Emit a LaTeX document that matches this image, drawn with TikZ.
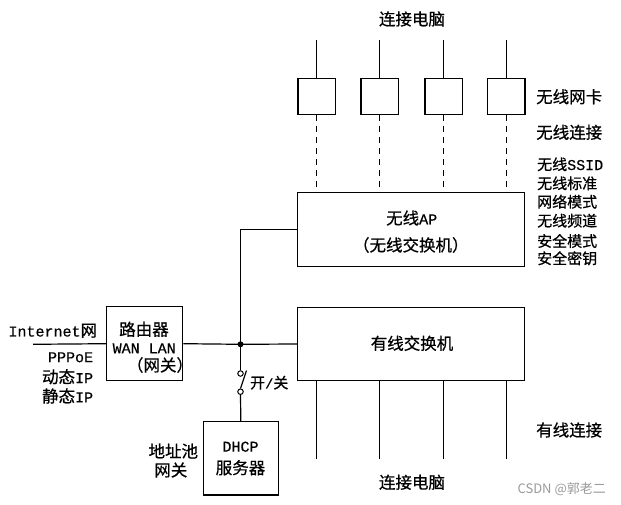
\documentclass[tikz,border=0pt]{standalone}
\usepackage{fontspec}
\setmainfont{Noto Sans CJK SC}[FakeBold=0.7]
\newfontfamily\monof{Liberation Mono}[FakeBold=0.5,Scale=0.91]
\newfontfamily\monofs{Liberation Mono}[FakeBold=0.5]
\newfontfamily\wmf{Noto Sans CJK SC}
\newcommand{\fsA}{\fontsize{16.5}{18}\selectfont}
\newcommand{\fsB}{\fontsize{15}{16}\selectfont}
\begin{document}
\begin{tikzpicture}[x=1pt,y=-1pt,
  box/.style={draw,line width=1.3pt,inner sep=0pt},
  wire/.style={line width=1.2pt},
  dwire/.style={line width=1.2pt,dash pattern=on 6pt off 5pt},
  lbl/.style={inner sep=0pt,font=\fsA},
  lbls/.style={inner sep=0pt,font=\fsB},
  contact/.style={draw,circle,fill=white,line width=1pt,minimum size=5.5pt,inner sep=0pt}]
\useasboundingbox (0,0) rectangle (621,505);
% main boxes
\node[box,minimum width=226.6pt,minimum height=74pt] (ap) at (411,229.7) {};
\node[box,minimum width=226.6pt,minimum height=73.4pt] (wsw) at (411,344) {};
\node[box,minimum width=76pt,minimum height=74pt] (rt) at (144.7,343.7) {};
\node[box,minimum width=75pt,minimum height=73.3pt] (dhcp) at (240.8,458.3) {};
% wireless cards and wired lines
\foreach \i/\x in {1/316.6,2/379.8,3/443.6,4/506.2}{
  \node[box,minimum width=37.5pt,minimum height=36pt] (c\i) at (\x,96.3) {};
  \coordinate (t\i) at (\x,40);
  \coordinate (b\i) at (\x,459);
  \draw[wire] (t\i) -- (c\i.north);
  \draw[dwire] (c\i.south) -- (c\i.south |- ap.north);
  \draw[wire] (b\i |- wsw.south) -- (b\i);
}
% junction and connections
\coordinate (J) at (240.5,344.3);
\coordinate (inet) at (33,344.3);
\draw[wire] (inet) -- (rt.west);
\draw[wire] (rt.east) -- (J) -- (wsw.west);
\draw[wire] (J) -- (J |- ap.west) -- (ap.west);
\fill (J) circle (3pt);
% switch
\node[contact] (s1) at (240.5,373.5) {};
\node[contact] (s2) at (240.5,391.7) {};
\coordinate (blade) at (246.5,370.5);
\draw[wire] (J) -- (s1.north);
\draw[wire] (s2.north) -- (blade);
\draw[wire] (s2.south) -- (dhcp.north);
% texts
\node[lbl] (topt) at (412,19) {连接电脑};
\node[lbl,anchor=west] (wnk) at (536,96.7) {无线网卡};
\node[lbl,anchor=west] (wxl) at (536,132.3) {无线连接};
\node[lbls,anchor=west] (p1) at (537,164.3) {无线{\monofs SSID}};
\node[lbls,anchor=west] (p2) at (537,183.3) {无线标准};
\node[lbls,anchor=west] (p3) at (537,201.7) {网络模式};
\node[lbls,anchor=west] (p4) at (537,220.7) {无线频道};
\node[lbls,anchor=west] (p5) at (537,241) {安全模式};
\node[lbls,anchor=west] (p6) at (537,258.3) {安全密钥};
\node[lbl] (apt1) at (411.7,218) {无线{\monof AP}};
\node[lbl] (apt2) at (410.8,245) {（无线交换机）};
\node[lbl] (wswt) at (412,343.3) {有线交换机};
\node[lbl,anchor=west] (yxl) at (536,430) {有线连接};
\node[lbl] (bott) at (412,482.3) {连接电脑};
\node[inner sep=0pt,font=\wmf\fontsize{13}{14}\selectfont,text=black!40,anchor=east] (wm) at (606,489) {CSDN @郭老二};
\node[lbl] (rt1) at (144,329.3) {路由器};
\node[lbl] (rt2) at (144.2,348.3) {\monof WAN LAN};
\node[lbl] (rt3) at (160,365) {（网关）};
\node[lbl,anchor=west] (inett) at (8.3,330.7) {{\monof Internet}网};
\node[lbl,anchor=east] (q1) at (93.3,357.3) {\monof PPPoE};
\node[lbl,anchor=east] (q2) at (93.3,376.7) {动态{\monof IP}};
\node[lbl,anchor=east] (q3) at (93.3,396) {静态{\monof IP}};
\node[lbls,anchor=west] (sw) at (250,382.7) {开{\monof /}关};
\node[lbl] (d1) at (240.5,446.7) {\monof DHCP};
\node[lbl] (d2) at (240.5,467.7) {服务器};
\node[lbl] (g1) at (173.3,451) {地址池};
\node[lbl] (g2) at (170.8,470) {网关};
\end{tikzpicture}
\end{document}
